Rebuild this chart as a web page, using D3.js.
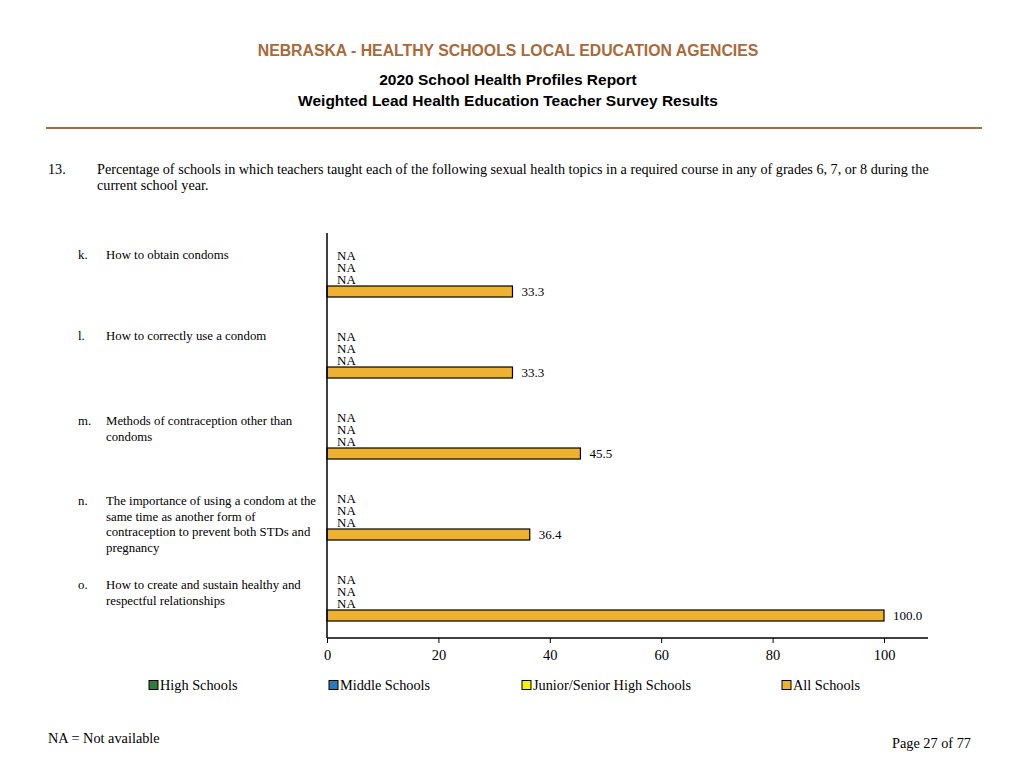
<!DOCTYPE html>
<html>
<head>
<meta charset="utf-8">
<script src="https://cdn.jsdelivr.net/npm/d3@7"></script>
<style>
  html, body { margin: 0; padding: 0; background: #fff; }
  svg { display: block; }
</style>
</head>
<body>
<svg id="chart" width="1024" height="768"></svg>
<script>
// ---- data ----
const letters = ["k.", "l.", "m.", "n.", "o."];
const categories = [
  ["How to obtain condoms"],
  ["How to correctly use a condom"],
  ["Methods of contraception other than", "condoms"],
  ["The importance of using a condom at the", "same time as another form of", "contraception to prevent both STDs and", "pregnancy"],
  ["How to create and sustain healthy and", "respectful relationships"]
];
const seriesNames = ["High Schools", "Middle Schools", "Junior/Senior High Schools", "All Schools"];
const seriesColors = ["#2e7d3a", "#2b7bb9", "#f2f20a", "#efb132"];
const highSchools = [null, null, null, null, null];
const middleSchools = [null, null, null, null, null];
const juniorSeniorHigh = [null, null, null, null, null];
const allSchools = [33.3, 33.3, 45.5, 36.4, 100.0];
const xTicks = [0, 20, 40, 60, 80, 100];

const seriesValues = [highSchools, middleSchools, juniorSeniorHigh, allSchools];

const svg = d3.select("#chart");
const serif = "'Liberation Serif', 'Times New Roman', serif";
const sans = "'Liberation Sans', Arial, sans-serif";

// ---- header ----
svg.append("text").attr("x", 508).attr("y", 56).attr("text-anchor", "middle")
  .attr("font-family", sans).attr("font-weight", "bold").attr("font-size", 15.8)
  .attr("fill", "#a86a3a").text("NEBRASKA - HEALTHY SCHOOLS LOCAL EDUCATION AGENCIES");
svg.append("text").attr("x", 508).attr("y", 85).attr("text-anchor", "middle")
  .attr("font-family", sans).attr("font-weight", "bold").attr("font-size", 15.5)
  .attr("fill", "#000").text("2020 School Health Profiles Report");
svg.append("text").attr("x", 508).attr("y", 106).attr("text-anchor", "middle")
  .attr("font-family", sans).attr("font-weight", "bold").attr("font-size", 15.5)
  .attr("fill", "#000").text("Weighted Lead Health Education Teacher Survey Results");
svg.append("line").attr("x1", 46).attr("x2", 982).attr("y1", 128).attr("y2", 128)
  .attr("stroke", "#a86a3a").attr("stroke-width", 2);

// ---- question ----
svg.append("text").attr("x", 48).attr("y", 174).attr("font-family", serif).attr("font-size", 14.2)
  .text("13.");
const q = svg.append("text").attr("font-family", serif).attr("font-size", 14.2);
q.append("tspan").attr("x", 97).attr("y", 174)
  .text("Percentage of schools in which teachers taught each of the following sexual health topics in a required course in any of grades 6, 7, or 8 during the");
q.append("tspan").attr("x", 97).attr("y", 190).text("current school year.");

// ---- scales ----
const x = d3.scaleLinear().domain([0, 100]).range([327, 884]);
const y = d3.scaleBand().domain(d3.range(categories.length)).range([233, 638])
  .paddingInner(0.407).paddingOuter(0.2035);
const yInner = d3.scaleBand().domain(d3.range(seriesNames.length)).range([0, y.bandwidth()]);

// small vertical nudges of the wrapped left-hand labels, as in the source layout
const labelNudge = [0, 0, 4, 3, 6];

// ---- bars ----
const groups = svg.append("g").selectAll("g").data(categories).join("g")
  .attr("transform", (d, i) => `translate(0,${y(i)})`);

groups.each(function(cat, i) {
  const g = d3.select(this);
  seriesValues.forEach((vals, s) => {
    const v = vals[i];
    const yy = yInner(s);
    const h = yInner.bandwidth();
    if (v === null) {
      g.append("text").attr("x", x(0) + 10).attr("y", yy + h / 2 + 4.5)
        .attr("font-family", serif).attr("font-size", 13).text("NA");
    } else {
      g.append("rect").attr("x", x(0)).attr("y", yy + 0.5)
        .attr("width", x(v) - x(0)).attr("height", h - 1)
        .attr("fill", seriesColors[s]).attr("stroke", "#000").attr("stroke-width", 1.2);
      g.append("text").attr("x", x(v) + 9).attr("y", yy + h / 2 + 5)
        .attr("font-family", serif).attr("font-size", 13).text(v.toFixed(1));
    }
  });
  // labels
  const ly = y(i) + 10 + labelNudge[i];
  svg.append("text").attr("x", 78).attr("y", ly)
    .attr("font-family", serif).attr("font-size", 12.8).text(letters[i]);
  const t = svg.append("text").attr("font-family", serif).attr("font-size", 12.8);
  cat.forEach((line, k) => {
    t.append("tspan").attr("x", 106).attr("y", ly + k * 15.5).text(line);
  });
});

// ---- axes ----
svg.append("line").attr("x1", x(0)).attr("x2", x(0)).attr("y1", 233).attr("y2", 638)
  .attr("stroke", "#000").attr("stroke-width", 1.5);
const xAxis = svg.append("g").attr("transform", "translate(0,638)")
  .call(d3.axisBottom(x).tickValues(xTicks).tickSize(5).tickPadding(7).tickFormat(d3.format("d")));
xAxis.select(".domain").remove();
xAxis.append("line").attr("x1", x(0)).attr("x2", 928).attr("y1", 0).attr("y2", 0)
  .attr("stroke", "#000").attr("stroke-width", 1.5);
xAxis.selectAll(".tick line").attr("stroke", "#000").attr("stroke-width", 1);
xAxis.selectAll(".tick text").attr("font-family", serif).attr("font-size", 14.5).attr("fill", "#000");

// ---- legend ----
const legendX = [149, 329, 522, 782];
const legend = svg.append("g").selectAll("g").data(seriesNames).join("g")
  .attr("transform", (d, i) => `translate(${legendX[i]},685)`);
legend.append("rect").attr("x", 0).attr("y", -4.5).attr("width", 9).attr("height", 9)
  .attr("fill", (d, i) => seriesColors[i]).attr("stroke", "#000").attr("stroke-width", 1);
legend.append("text").attr("x", 11).attr("y", 5).attr("font-family", serif).attr("font-size", 14.3)
  .text(d => d);

// ---- footer ----
svg.append("text").attr("x", 48).attr("y", 743).attr("font-family", serif).attr("font-size", 14.3)
  .text("NA = Not available");
svg.append("text").attr("x", 971).attr("y", 748).attr("text-anchor", "end")
  .attr("font-family", serif).attr("font-size", 14.3).text("Page 27 of 77");
</script>
</body>
</html>
